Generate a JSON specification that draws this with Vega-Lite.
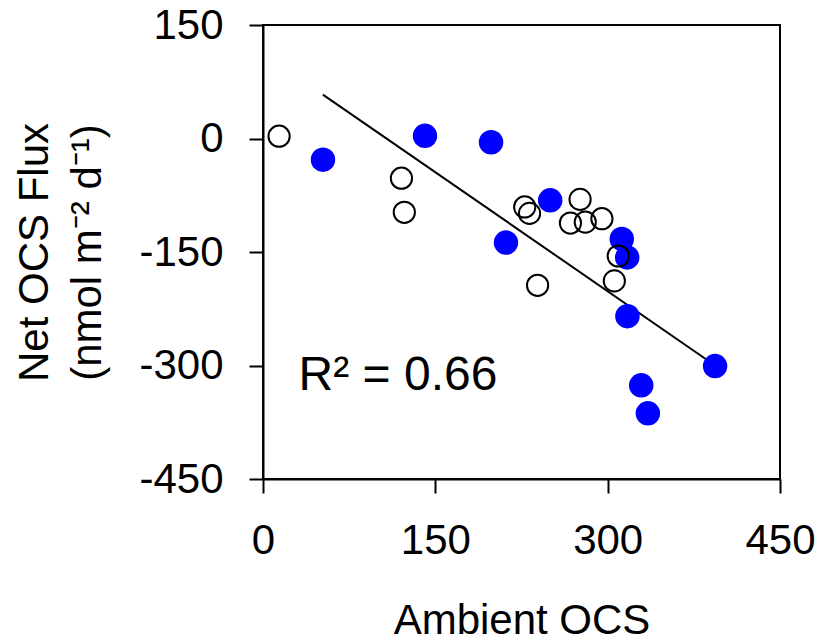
{
  "$schema": "https://vega.github.io/schema/vega-lite/v6.json",
  "width": 517,
  "height": 454,
  "autosize": {"type": "none"},
  "padding": {"left": 263, "top": 25, "right": 39, "bottom": 159},
  "background": "white",
  "config": {
    "view": {"stroke": "black", "strokeWidth": 2},
    "font": "Liberation Sans",
    "axis": {
      "grid": false,
      "domainColor": "black",
      "domainWidth": 2,
      "tickColor": "black",
      "tickWidth": 2,
      "tickSize": 14,
      "labelColor": "black",
      "labelFont": "Liberation Sans",
      "labelFontSize": 42,
      "labelFlush": false,
      "labelOverlap": false,
      "labelBound": false,
      "labelExpr": "datum.value < 0 ? '-' + abs(datum.value) : '' + datum.value",
      "titleColor": "black",
      "titleFont": "Liberation Sans",
      "titleFontSize": 42,
      "titleFontWeight": "normal"
    }
  },
  "datasets": {
    "points": [
      {"x": 14, "y": 3, "group": "open"},
      {"x": 120.5, "y": -52.5, "group": "open"},
      {"x": 123, "y": -97.5, "group": "open"},
      {"x": 227.8, "y": -90.5, "group": "open"},
      {"x": 232, "y": -99, "group": "open"},
      {"x": 276, "y": -80.5, "group": "open"},
      {"x": 267.6, "y": -111.7, "group": "open"},
      {"x": 280.5, "y": -110.5, "group": "open"},
      {"x": 295, "y": -106, "group": "open"},
      {"x": 309.2, "y": -155.3, "group": "open"},
      {"x": 305.8, "y": -188.2, "group": "open"},
      {"x": 239, "y": -194, "group": "open"},
      {"x": 52.2, "y": -28, "group": "filled"},
      {"x": 141, "y": 3.5, "group": "filled"},
      {"x": 198.5, "y": -5, "group": "filled"},
      {"x": 250, "y": -81.7, "group": "filled"},
      {"x": 211.5, "y": -137.5, "group": "filled"},
      {"x": 312.3, "y": -132.7, "group": "filled"},
      {"x": 317, "y": -157.2, "group": "filled"},
      {"x": 317.2, "y": -234.8, "group": "filled"},
      {"x": 393.5, "y": -300.8, "group": "filled"},
      {"x": 329.2, "y": -326.2, "group": "filled"},
      {"x": 335, "y": -363.2, "group": "filled"}
    ],
    "fit": [
      {"x": 52.1, "y": 58},
      {"x": 386.9, "y": -293}
    ],
    "ann": [
      {"x": 31, "y": -332, "label": "R² = 0.66"}
    ]
  },
  "layer": [
    {
      "data": {"name": "fit"},
      "mark": {"type": "line", "color": "black", "strokeWidth": 2},
      "encoding": {
        "x": {
          "field": "x",
          "type": "quantitative",
          "scale": {"domain": [0, 450], "nice": false, "zero": false},
          "axis": {
            "values": [0, 150, 300, 450],
            "labelPadding": 27,
            "title": "Ambient OCS",
            "titleBaseline": "alphabetic",
            "titleAlign": "center",
            "titleX": 258.5,
            "titleY": 154
          }
        },
        "y": {
          "field": "y",
          "type": "quantitative",
          "scale": {"domain": [-450, 150], "nice": false, "zero": false},
          "axis": {
            "values": [150, 0, -150, -300, -450],
            "labelPadding": 26,
            "title": ["Net OCS Flux", "(nmol m⁻² d⁻¹)"],
            "titleLineHeight": 53,
            "titleAngle": 270,
            "titleBaseline": "alphabetic",
            "titleAlign": "center",
            "titleX": -216,
            "titleY": 227
          }
        }
      }
    },
    {
      "data": {"name": "points"},
      "transform": [{"filter": "datum.group === 'filled'"}],
      "mark": {"type": "circle", "color": "#0000FF", "opacity": 1, "size": 600},
      "encoding": {
        "x": {"field": "x", "type": "quantitative"},
        "y": {"field": "y", "type": "quantitative"}
      }
    },
    {
      "data": {"name": "points"},
      "transform": [{"filter": "datum.group === 'open'"}],
      "mark": {"type": "point", "shape": "circle", "filled": false, "stroke": "black", "strokeWidth": 2, "opacity": 1, "size": 450},
      "encoding": {
        "x": {"field": "x", "type": "quantitative"},
        "y": {"field": "y", "type": "quantitative"}
      }
    },
    {
      "data": {"name": "ann"},
      "mark": {"type": "text", "align": "left", "baseline": "alphabetic", "fontSize": 48, "font": "Liberation Sans", "color": "black"},
      "encoding": {
        "x": {"field": "x", "type": "quantitative"},
        "y": {"field": "y", "type": "quantitative"},
        "text": {"field": "label"}
      }
    }
  ]
}
